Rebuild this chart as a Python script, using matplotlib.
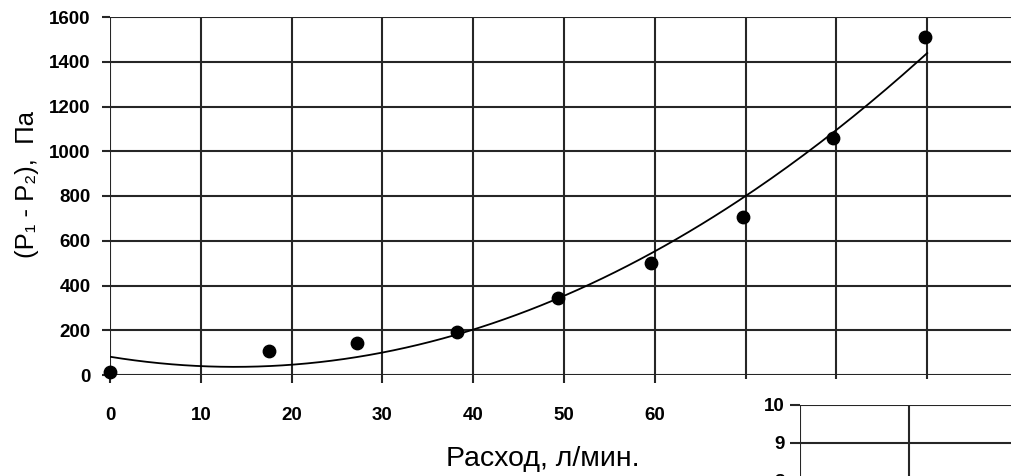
import numpy as np
import matplotlib
matplotlib.use("Agg")
from matplotlib import pyplot as plt
from matplotlib.patches import Rectangle

# Данные
rashod = [0, 17.5, 27.2, 38.2, 49.3, 59.6, 69.7, 79.6, 89.8]
perepad = [13, 107, 143, 192, 344, 500, 706, 1059, 1510]

x_ticks = [0, 10, 20, 30, 40, 50, 60, 70, 80, 90, 100]
x_labels = ['0', '10', '20', '30', '40', '50', '60', '70', '80', '90', '']
y_ticks = [0, 200, 400, 600, 800, 1000, 1200, 1400, 1600]

inset_y_ticks = [8, 9, 10]

font = ['Liberation Sans', 'DejaVu Sans']
gc = '#262626'

W, H = 1011, 476
fig = plt.figure(figsize=(W / 100, H / 100), dpi=100)
fig.patch.set_facecolor('white')

def px(x0, y_top, x1, y_bot):
    return [x0 / W, 1 - y_bot / H, (x1 - x0) / W, (y_bot - y_top) / H]

ax = fig.add_axes(px(110, 17, 1018, 375))
ax.set_xlim(0, 100)
ax.set_ylim(0, 1600)
for s in ax.spines.values():
    s.set_visible(False)
ax.set_xticks(x_ticks)
ax.set_xticklabels(x_labels)
ax.set_yticks(y_ticks)
ax.grid(True, color=gc, linewidth=1.5)
ax.tick_params(axis='both', direction='out', length=6, width=1.5, color=gc)
ax.tick_params(axis='x', pad=17)
ax.tick_params(axis='y', pad=8)
for lab in ax.get_xticklabels() + ax.get_yticklabels():
    lab.set_family(font)
    lab.set_fontweight('bold')
    lab.set_fontsize(13.5)
    lab.set_color('black')

# полиномиальная линия тренда 2-й степени
coef = np.polyfit(rashod, perepad, 2)
xx = np.linspace(0, 90, 200)
ax.plot(xx, np.polyval(coef, xx), color='black', linewidth=1.3, zorder=3)
ax.scatter(rashod, perepad, s=80, color='black', zorder=4, clip_on=False)

ax.set_ylabel('(P\u2081 - P\u2082),  Па', family=font, fontsize=18.5)
ax.yaxis.set_label_coords(-0.078, 0.533)
fig.text(543 / W, 1 - 459 / H, 'Расход, л/мин.', family=font, fontsize=20.5,
         ha='center', va='center')

# белая подложка второй диаграммы
fig.add_artist(Rectangle((700 / W, 0), 1 - 700 / W, 1 - 379 / H,
                         transform=fig.transFigure, facecolor='white',
                         edgecolor='none', zorder=1))

ax2 = fig.add_axes(px(800, 405, 1127, 785), zorder=2)
ax2.set_xlim(0, 30)
ax2.set_ylim(0, 10)
for s in ax2.spines.values():
    s.set_visible(False)
ax2.set_xticks([0, 10, 20, 30])
ax2.set_xticklabels([])
ax2.set_yticks(inset_y_ticks)
ax2.grid(True, color=gc, linewidth=1.5)
ax2.tick_params(axis='both', direction='out', length=7, width=1.5, color=gc)
ax2.tick_params(axis='x', length=0)
ax2.tick_params(axis='y', pad=4)
for lab in ax2.get_yticklabels():
    lab.set_family(font)
    lab.set_fontweight('bold')
    lab.set_fontsize(13.5)
    lab.set_color('black')

fig.savefig('out.png', dpi=100)
